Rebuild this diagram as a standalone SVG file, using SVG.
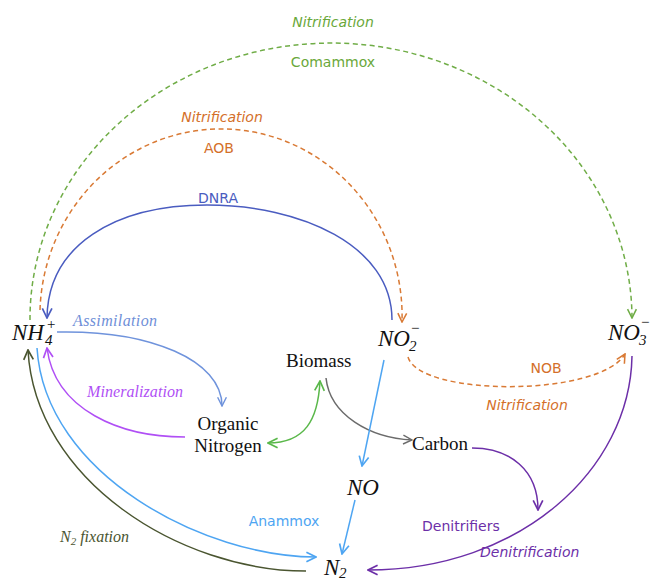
<svg xmlns="http://www.w3.org/2000/svg" width="652" height="581" viewBox="0 0 652 581">
<style>
.sans{font-family:"DejaVu Sans","Liberation Sans",sans-serif;font-size:14px}
.it{font-style:italic}
.math{font-family:"Liberation Serif","DejaVu Serif",serif;font-style:italic;font-size:23px;fill:#111}
.sub{font-size:15px}
.node{font-family:"Liberation Serif","DejaVu Serif",serif;font-size:19px;fill:#111}
.sit{font-family:"Liberation Serif","DejaVu Serif",serif;font-style:italic;font-size:16px}
.c{fill:none;stroke-width:1.5}
</style>
<defs>
<marker id="aG" viewBox="0 0 10 10" refX="9" refY="5" markerWidth="11" markerHeight="11" markerUnits="userSpaceOnUse" orient="auto"><path d="M1,1 L9,5 L1,9" fill="none" stroke="#70ad47" stroke-width="1.4"/></marker>
<marker id="aO" viewBox="0 0 10 10" refX="9" refY="5" markerWidth="11" markerHeight="11" markerUnits="userSpaceOnUse" orient="auto"><path d="M1,1 L9,5 L1,9" fill="none" stroke="#d97a35" stroke-width="1.4"/></marker>
<marker id="aD" viewBox="0 0 10 10" refX="9" refY="5" markerWidth="12" markerHeight="12" markerUnits="userSpaceOnUse" orient="auto"><path d="M1,1 L9,5 L1,9" fill="none" stroke="#4a5cc0" stroke-width="1.4"/></marker>
<marker id="aA" viewBox="0 0 10 10" refX="9" refY="5" markerWidth="11" markerHeight="11" markerUnits="userSpaceOnUse" orient="auto"><path d="M1,1 L9,5 L1,9" fill="none" stroke="#6f93dc" stroke-width="1.3"/></marker>
<marker id="aM" viewBox="0 0 10 10" refX="9" refY="5" markerWidth="12" markerHeight="12" markerUnits="userSpaceOnUse" orient="auto"><path d="M1,1 L9,5 L1,9" fill="none" stroke="#b04ff5" stroke-width="1.4"/></marker>
<marker id="aGr" viewBox="0 0 10 10" refX="9" refY="5" markerWidth="12" markerHeight="12" markerUnits="userSpaceOnUse" orient="auto-start-reverse"><path d="M1,1 L9,5 L1,9" fill="none" stroke="#5ab84a" stroke-width="1.4"/></marker>
<marker id="aK" viewBox="0 0 10 10" refX="9" refY="5" markerWidth="11" markerHeight="11" markerUnits="userSpaceOnUse" orient="auto"><path d="M1,1 L9,5 L1,9" fill="none" stroke="#6b6b6b" stroke-width="1.3"/></marker>
<marker id="aB" viewBox="0 0 10 10" refX="9" refY="5" markerWidth="12" markerHeight="12" markerUnits="userSpaceOnUse" orient="auto"><path d="M1,1 L9,5 L1,9" fill="none" stroke="#4ea5f2" stroke-width="1.4"/></marker>
<marker id="aP" viewBox="0 0 10 10" refX="9" refY="5" markerWidth="12" markerHeight="12" markerUnits="userSpaceOnUse" orient="auto"><path d="M1,1 L9,5 L1,9" fill="none" stroke="#6c2fa8" stroke-width="1.4"/></marker>
<marker id="aF" viewBox="0 0 10 10" refX="9" refY="5" markerWidth="12" markerHeight="12" markerUnits="userSpaceOnUse" orient="auto"><path d="M1,1 L9,5 L1,9" fill="none" stroke="#4a5530" stroke-width="1.4"/></marker>
</defs>
<rect width="652" height="581" fill="#fff"/>

<g id="connectors">
  <!-- Comammox -->
  <path class="c" d="M30,320 A300,275 0 0 1 632,318" stroke="#70ad47" stroke-dasharray="5,3.5" marker-end="url(#aG)"/>
  <!-- AOB -->
  <path class="c" d="M40,310 A181,187 0 0 1 402,322" stroke="#d97a35" stroke-dasharray="5,3.5" marker-end="url(#aO)"/>
  <!-- DNRA -->
  <path class="c" d="M392,320 C392,245 300,205 207,205 C115,205 48,245 47,318" stroke="#4a5cc0" stroke-width="1.7" marker-end="url(#aD)"/>
  <!-- Assimilation -->
  <path class="c" d="M57,332 C150,330 222,360 222,406" stroke="#6f93dc" stroke-width="1.3" marker-end="url(#aA)"/>
  <!-- Mineralization -->
  <path class="c" d="M185,437 C120,437 55,410 47,348" stroke="#b04ff5" stroke-width="1.7" marker-end="url(#aM)"/>
  <!-- Organic Nitrogen <-> Biomass -->
  <path class="c" d="M268,443 C305,443 318,420 320,381" stroke="#5ab84a" marker-start="url(#aGr)" marker-end="url(#aGr)"/>
  <!-- Biomass -> Carbon -->
  <path class="c" d="M326,378 C330,415 370,438 412,440" stroke="#6b6b6b" stroke-width="1.3" marker-end="url(#aK)"/>
  <!-- NO2 -> NO -->
  <path class="c" d="M384,360 L362,466" stroke="#4ea5f2" marker-end="url(#aB)"/>
  <!-- NO -> N2 -->
  <path class="c" d="M355,500 L342,554" stroke="#4ea5f2" marker-end="url(#aB)"/>
  <!-- Anammox -->
  <path class="c" d="M37,348 C45,475 205,557 316,557" stroke="#4ea5f2" marker-end="url(#aB)"/>
  <!-- N2 fixation -->
  <path class="c" d="M306,571 C180,571 35,480 28,350" stroke="#4a5530" marker-end="url(#aF)"/>
  <!-- NOB -->
  <path class="c" d="M408,357 C420,397 600,397 625,354" stroke="#d97a35" stroke-dasharray="5,3.5" marker-end="url(#aO)"/>
  <!-- Denitrification -->
  <path class="c" d="M632,356 C630,470 520,570 368,570" stroke="#6c2fa8" marker-end="url(#aP)"/>
  <!-- Carbon -> Denitrifiers -->
  <path class="c" d="M472,448 C510,448 538,470 538,510" stroke="#6c2fa8" marker-end="url(#aP)"/>
</g>

<g id="labels">
  <text class="sans it" x="333" y="27" text-anchor="middle" fill="#6aa83a">Nitrification</text>
  <text class="sans" x="333" y="67" text-anchor="middle" fill="#6aa83a">Comammox</text>
  <text class="sans it" x="222" y="122" text-anchor="middle" fill="#d4702a">Nitrification</text>
  <text class="sans" x="219" y="153" text-anchor="middle" fill="#d4702a">AOB</text>
  <text class="sans" x="218" y="203" text-anchor="middle" fill="#4a5cc0">DNRA</text>
  <text class="sit" x="73" y="326" textLength="84" fill="#6f8fd8">Assimilation</text>
  <text class="sit" x="87" y="397" textLength="96" fill="#b04ff5">Mineralization</text>
  <text class="sit" x="60" y="542" fill="#4a5530">N<tspan font-size="11" dy="3">2</tspan><tspan dy="-3"> fixation</tspan></text>
  <text class="sans" x="546" y="373" text-anchor="middle" fill="#d4702a">NOB</text>
  <text class="sans it" x="527" y="410" text-anchor="middle" fill="#d4702a">Nitrification</text>
  <text class="sans" x="284" y="526" text-anchor="middle" fill="#4ea5f2">Anammox</text>
  <text class="sans" x="422" y="531" fill="#6c2fa8">Denitrifiers</text>
  <text class="sans it" x="480" y="557" fill="#6c2fa8">Denitrification</text>
</g>

<g id="NH4">
  <text class="math" x="12" y="340">NH</text>
  <text class="math sub" x="45" y="345">4</text>
  <text class="math sub" x="46" y="329">+</text>
</g>
<g id="NO2">
  <text class="math" x="378" y="346">NO</text>
  <text class="math sub" x="409" y="351">2</text>
  <text class="math sub" x="410" y="333">−</text>
</g>
<g id="NO3">
  <text class="math" x="608" y="340">NO</text>
  <text class="math sub" x="639" y="345">3</text>
  <text class="math sub" x="640" y="327">−</text>
</g>
<g id="Biomass">
  <text class="node" x="286" y="367">Biomass</text>
</g>
<g id="OrganicNitrogen">
  <text class="node" x="228" y="430" text-anchor="middle">Organic</text>
  <text class="node" x="228" y="452" text-anchor="middle">Nitrogen</text>
</g>
<g id="Carbon">
  <text class="node" x="412" y="450">Carbon</text>
</g>
<g id="NO">
  <text class="math" x="347" y="495">NO</text>
</g>
<g id="N2">
  <text class="math" x="324" y="575">N</text>
  <text class="math sub" x="339" y="578">2</text>
</g>
</svg>
